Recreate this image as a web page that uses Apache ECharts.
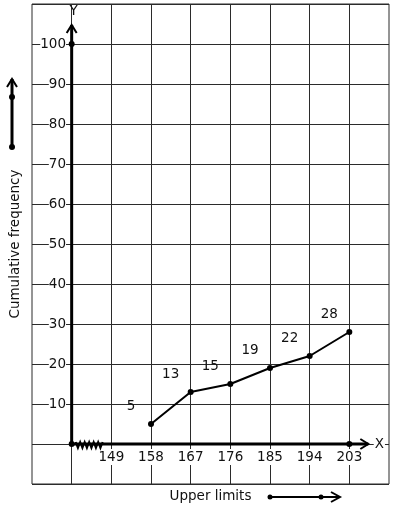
<!DOCTYPE html>
<html><head><meta charset="utf-8">
<script src="https://cdn.jsdelivr.net/npm/echarts@6/dist/echarts.min.js"></script>
<style>html,body{margin:0;padding:0;background:#fff}#c{width:394px;height:510px}</style>
</head><body><div id="c"></div>
<script>
const upperLimits = [158, 167, 176, 185, 194, 203];
const cumFreq = [5, 13, 15, 19, 22, 28];
const xTickLabels = [149, 158, 167, 176, 185, 194, 203];
const xGridValues = [140, 149, 158, 167, 176, 185, 194, 203];
const yTickLabels = [10, 20, 30, 40, 50, 60, 70, 80, 90, 100];
const xOrigin = 140, yOrigin = 0, yTop = 100;

const FONT = 'DejaVu Sans';
const FS = 13.5;
const chart = echarts.init(document.getElementById('c'), null, {renderer: 'canvas'});

function axesRender(params, api) {
  const o = api.coord([xOrigin, yOrigin]);
  const t = api.coord([xOrigin, yTop]);
  const xe = api.coord([upperLimits[upperLimits.length - 1], yOrigin]);
  const yTip = t[1] - 19, xTip = xe[0] + 19;
  const zz = [];
  const zx0 = o[0] + 4, step = 2.25;
  for (let i = 0; i <= 12; i++) zz.push([zx0 + i * step, o[1] + (i % 2 ? 4 : -2)]);
  const blk = {stroke: '#000', lineWidth: 3, fill: null};
  return {
    type: 'group',
    children: [
      {type: 'polyline', shape: {points: [[o[0], o[1]], [o[0], yTip]]}, style: blk},
      {type: 'polyline', shape: {points: [[o[0] - 5, yTip + 8], [o[0], yTip], [o[0] + 5, yTip + 8]]}, style: {stroke: '#000', lineWidth: 2, fill: null}},
      {type: 'polyline', shape: {points: [[o[0], o[1]], [xTip, o[1]]]}, style: blk},
      {type: 'polyline', shape: {points: [[xTip - 8, o[1] - 5], [xTip, o[1]], [xTip - 8, o[1] + 5]]}, style: {stroke: '#000', lineWidth: 2, fill: null}},
      {type: 'polyline', shape: {points: zz}, style: {stroke: '#000', lineWidth: 2, fill: null}},
      {type: 'circle', shape: {cx: o[0], cy: o[1], r: 3}, style: {fill: '#000'}},
      {type: 'circle', shape: {cx: t[0], cy: t[1], r: 3}, style: {fill: '#000'}},
      {type: 'circle', shape: {cx: xe[0], cy: xe[1], r: 3}, style: {fill: '#000'}},
      {type: 'text', x: xTip + 11, y: o[1], style: {text: 'X', fill: '#111', font: FS + 'px ' + FONT, align: 'center', verticalAlign: 'middle', backgroundColor: '#fff', padding: [0, 1]}},
      {type: 'text', x: o[0] + 2, y: yTip - 14, style: {text: 'Y', fill: '#111', font: FS + 'px ' + FONT, align: 'center', verticalAlign: 'middle'}}
    ]
  };
}

chart.setOption({
  animation: false,
  backgroundColor: '#fff',
  grid: {left: 29, right: 5, top: 4, bottom: 26, show: true, borderColor: '#2b2b2b', borderWidth: 1},
  xAxis: {
    type: 'value', min: 131, max: 212,
    name: 'Upper limits', nameLocation: 'middle', nameGap: 5,
    nameTextStyle: {fontFamily: FONT, fontSize: FS, color: '#111', verticalAlign: 'top'},
    axisLine: {show: false},
    axisTick: {show: false, customValues: xGridValues},
    axisLabel: {customValues: xTickLabels, inside: true, margin: 27, verticalAlign: 'middle',
      fontFamily: FONT, fontSize: FS, color: '#111', backgroundColor: '#fff', padding: [1, 0]},
    splitLine: {show: true, lineStyle: {color: '#2b2b2b', width: 1}}
  },
  yAxis: {
    type: 'value', min: -10, max: 110, interval: 10,
    name: 'Cumulative frequency', nameLocation: 'middle', nameGap: 10, nameRotate: 90,
    nameTextStyle: {fontFamily: FONT, fontSize: FS, color: '#111'},
    axisLine: {show: false},
    axisTick: {show: false},
    axisLabel: {customValues: yTickLabels, inside: true, margin: 34, align: 'right',
      fontFamily: FONT, fontSize: FS, color: '#111', backgroundColor: '#fff', padding: [0, 0]},
    splitLine: {show: true, lineStyle: {color: '#2b2b2b', width: 1}}
  },
  series: [
    {type: 'custom', renderItem: axesRender, data: [[xOrigin, yOrigin]], silent: true, clip: false, z: 3},
    {
      type: 'line', z: 5,
      data: upperLimits.map((u, i) => [u, cumFreq[i]]),
      symbol: 'circle', symbolSize: 6,
      itemStyle: {color: '#000'},
      lineStyle: {color: '#000', width: 2},
      label: {show: true, position: 'inside', offset: [-20, -18], formatter: p => String(p.value[1]),
        fontFamily: FONT, fontSize: FS, color: '#111'}
    }
  ],
  graphic: [
    {type: 'polyline', shape: {points: [[12, 147], [12, 79]]}, style: {stroke: '#000', lineWidth: 3, fill: null}},
    {type: 'polyline', shape: {points: [[7, 87], [12, 79], [17, 87]]}, style: {stroke: '#000', lineWidth: 2, fill: null}},
    {type: 'circle', shape: {cx: 12, cy: 97, r: 3}, style: {fill: '#000'}},
    {type: 'circle', shape: {cx: 12, cy: 147, r: 3}, style: {fill: '#000'}},
    {type: 'polyline', shape: {points: [[270, 497], [339, 497]]}, style: {stroke: '#000', lineWidth: 2, fill: null}},
    {type: 'polyline', shape: {points: [[331, 492], [340, 497], [331, 502]]}, style: {stroke: '#000', lineWidth: 2, fill: null}},
    {type: 'circle', shape: {cx: 270, cy: 497, r: 2.5}, style: {fill: '#000'}},
    {type: 'circle', shape: {cx: 321, cy: 497, r: 2.5}, style: {fill: '#000'}}
  ]
});
</script></body></html>
